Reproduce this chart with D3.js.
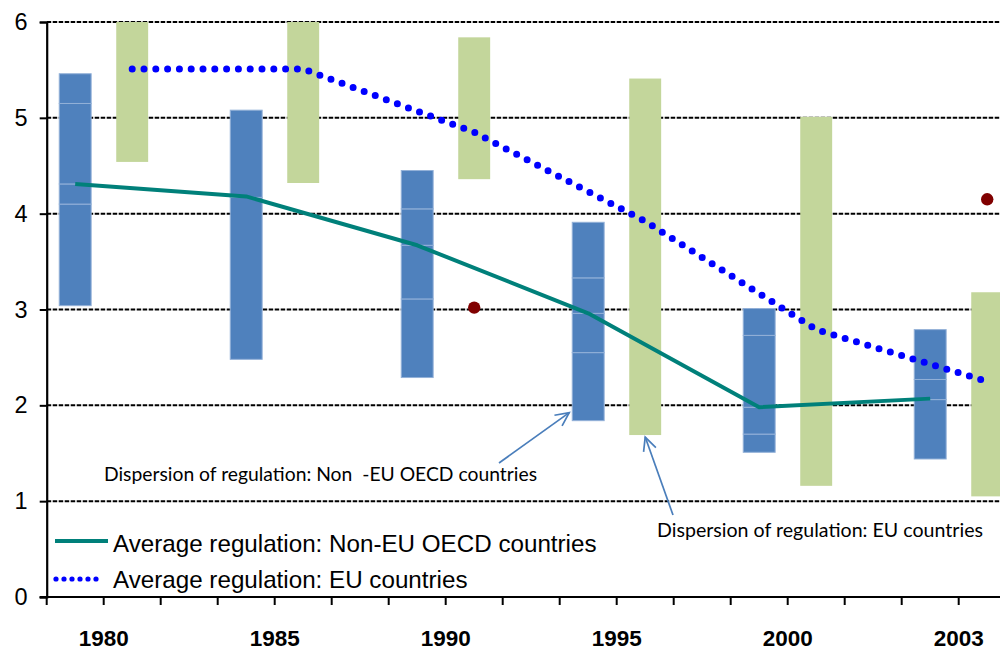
<!DOCTYPE html>
<html>
<head>
<meta charset="utf-8">
<script src="https://cdn.jsdelivr.net/npm/d3@7"></script>
<style>
  html, body { margin: 0; padding: 0; background: #fff; }
  svg { display: block; }
  text { white-space: pre; }
</style>
</head>
<body>
<svg id="chart" width="1000" height="651"></svg>
<script>
// ---------- DATA ----------
const years = ["1980", "1985", "1990", "1995", "2000", "2003"];
// Dispersion of regulation, Non-EU OECD countries: breakpoints (min ... max)
const nonEuBreaks = [
  [3.04, 4.10, 4.31, 5.15, 5.46],
  [2.48, 4.17, 5.08],
  [2.29, 3.11, 3.67, 4.05, 4.45],
  [1.84, 2.55, 2.96, 3.33, 3.91],
  [1.51, 1.70, 1.98, 2.73, 3.01],
  [1.44, 2.06, 2.27, 2.79]
];
// Dispersion of regulation, EU countries: [min, max]
const euLow  = [4.54, 4.32, 4.36, 1.69, 1.16, 1.05];
const euHigh = [6.00, 6.00, 5.84, 5.41, 5.01, 3.18];
// Average regulation
const nonEuAvg = [4.31, 4.18, 3.67, 2.96, 1.98, 2.07];
const euAvg    = [5.51, 5.51, 4.85, 3.92, 2.79, 2.25];
// Outlier points (placed on the EU slot of a year)
const outlierYears  = ["1990", "2003"];
const outlierValues = [3.02, 4.15];
const yTicks = [0, 1, 2, 3, 4, 5, 6];

// ---------- LAYOUT ----------
const svg = d3.select("#chart");
const x0 = 46.7, step = 57;
// three slots per year: non-EU bar, EU bar, gap
const slots = [];
years.forEach(yr => { slots.push(yr + "|n"); slots.push(yr + "|e"); slots.push(yr + "|g"); });
const x = d3.scaleBand().domain(slots).range([x0, x0 + step * slots.length]).padding(0);
const y = d3.scaleLinear().domain([0, 6]).range([597, 22]);
const bw = x.bandwidth();
const barW = bw * 0.56;
const cx = k => x(k) + bw / 2;

// gridlines
svg.append("g").selectAll("line").data(yTicks.filter(d => d > 0)).join("line")
  .attr("x1", x0).attr("x2", 1000)
  .attr("y1", d => y(d)).attr("y2", d => y(d))
  .attr("stroke", "#000").attr("stroke-width", 2)
  .attr("stroke-dasharray", "4.5,1.5");

// EU dispersion bars (green)
svg.append("g").selectAll("rect").data(years).join("rect")
  .attr("x", (d) => cx(d + "|e") - barW / 2)
  .attr("width", barW)
  .attr("y", (d, i) => y(euHigh[i]))
  .attr("height", (d, i) => y(euLow[i]) - y(euHigh[i]))
  .attr("fill", "#C3D69B");

// Non-EU dispersion bars (blue, stacked segments)
const segs = [];
years.forEach((yr, i) => {
  const b = nonEuBreaks[i];
  for (let j = 0; j < b.length - 1; j++) segs.push({ yr, lo: b[j], hi: b[j + 1] });
});
svg.append("g").selectAll("rect").data(segs).join("rect")
  .attr("x", d => cx(d.yr + "|n") - barW / 2)
  .attr("width", barW)
  .attr("y", d => y(d.hi))
  .attr("height", d => y(d.lo) - y(d.hi))
  .attr("fill", "#4F81BD")
  .attr("stroke", "#93B1D8").attr("stroke-width", 1);

// Non-EU average line
svg.append("path")
  .datum(years.map((yr, i) => [cx(yr + "|n"), y(nonEuAvg[i])]))
  .attr("d", d3.line())
  .attr("fill", "none").attr("stroke", "#00807A").attr("stroke-width", 4)
  .attr("stroke-linejoin", "round");

// EU average dotted line
svg.append("path")
  .datum(years.map((yr, i) => [cx(yr + "|e"), y(euAvg[i])]))
  .attr("d", d3.line())
  .attr("fill", "none").attr("stroke", "#0000FF").attr("stroke-width", 7)
  .attr("stroke-linecap", "round").attr("stroke-dasharray", "0,11.8");

// outlier points
svg.append("g").selectAll("circle").data(outlierYears).join("circle")
  .attr("cx", d => cx(d + "|e")).attr("cy", (d, i) => y(outlierValues[i]))
  .attr("r", 6.2).attr("fill", "#800000");

// Y axis
const yAxis = svg.append("g").attr("transform", `translate(${x0},0)`)
  .call(d3.axisLeft(y).tickValues(yTicks).tickSize(7).tickPadding(12).tickFormat(d3.format("d")));
yAxis.select(".domain").attr("stroke", "#000").attr("stroke-width", 2.2);
yAxis.selectAll(".tick line").attr("stroke", "#000").attr("stroke-width", 2);
yAxis.selectAll(".tick text").attr("font-family", "Liberation Sans, Arial, sans-serif")
  .attr("font-size", 23.5).attr("fill", "#000");

// X axis
const bnd = slots.map(s => x(s)).filter(v => v <= 1000);
svg.append("line").attr("x1", x0 - 7).attr("x2", 1000).attr("y1", y(0)).attr("y2", y(0))
  .attr("stroke", "#000").attr("stroke-width", 2.2);
svg.append("g").selectAll("line").data(bnd).join("line")
  .attr("x1", d => d).attr("x2", d => d).attr("y1", y(0)).attr("y2", y(0) + 8)
  .attr("stroke", "#000").attr("stroke-width", 2);
svg.append("g").selectAll("text").data(years).join("text")
  .attr("x", d => x(d + "|e")).attr("y", 646)
  .attr("text-anchor", "middle")
  .attr("font-family", "Liberation Sans, Arial, sans-serif").attr("font-weight", "bold")
  .attr("font-size", 22.5).attr("fill", "#000")
  .text(d => d);

// Legend
const lg = svg.append("g");
lg.append("line").attr("x1", 55).attr("x2", 108).attr("y1", 541).attr("y2", 541)
  .attr("stroke", "#00807A").attr("stroke-width", 3.8);
lg.append("line").attr("x1", 56).attr("x2", 104).attr("y1", 579).attr("y2", 579)
  .attr("stroke", "#0000FF").attr("stroke-width", 5.2).attr("stroke-linecap", "round")
  .attr("stroke-dasharray", "0,8");
lg.append("text").attr("x", 113).attr("y", 552)
  .attr("font-family", "Liberation Sans, Arial, sans-serif").attr("font-size", 24.2).attr("fill", "#000")
  .text("Average regulation: Non-EU OECD countries");
lg.append("text").attr("x", 113).attr("y", 588)
  .attr("font-family", "Liberation Sans, Arial, sans-serif").attr("font-size", 24.2).attr("fill", "#000")
  .text("Average regulation: EU countries");

// Annotations
const ann = svg.append("g").attr("font-family", "Lato, Open Sans, sans-serif")
  .attr("font-size", 19).attr("fill", "#000");
ann.append("text").attr("x", 104).attr("y", 481)
  .attr("textLength", 433).attr("lengthAdjust", "spacingAndGlyphs")
  .text("Dispersion of regulation: Non  -EU OECD countries");
ann.append("text").attr("x", 657).attr("y", 537)
  .attr("textLength", 326).attr("lengthAdjust", "spacingAndGlyphs")
  .text("Dispersion of regulation: EU countries");

function arrow(x1, y1, x2, y2) {
  const g = svg.append("g").attr("stroke", "#4A7EBB").attr("stroke-width", 1.7).attr("fill", "none");
  g.append("line").attr("x1", x1).attr("y1", y1).attr("x2", x2).attr("y2", y2);
  const a = Math.atan2(y2 - y1, x2 - x1), L = 15, s = 0.45;
  g.append("path").attr("d",
    `M${x2 - L * Math.cos(a - s)},${y2 - L * Math.sin(a - s)}L${x2},${y2}L${x2 - L * Math.cos(a + s)},${y2 - L * Math.sin(a + s)}`);
}
// arrows point at the 1995 bars' bottoms
arrow(499, 463, cx("1995|n") - barW / 2 - 3, y(nonEuBreaks[3][0]) - 8);
arrow(673, 515, cx("1995|e"), y(euLow[3]) + 2);
</script>
</body>
</html>
